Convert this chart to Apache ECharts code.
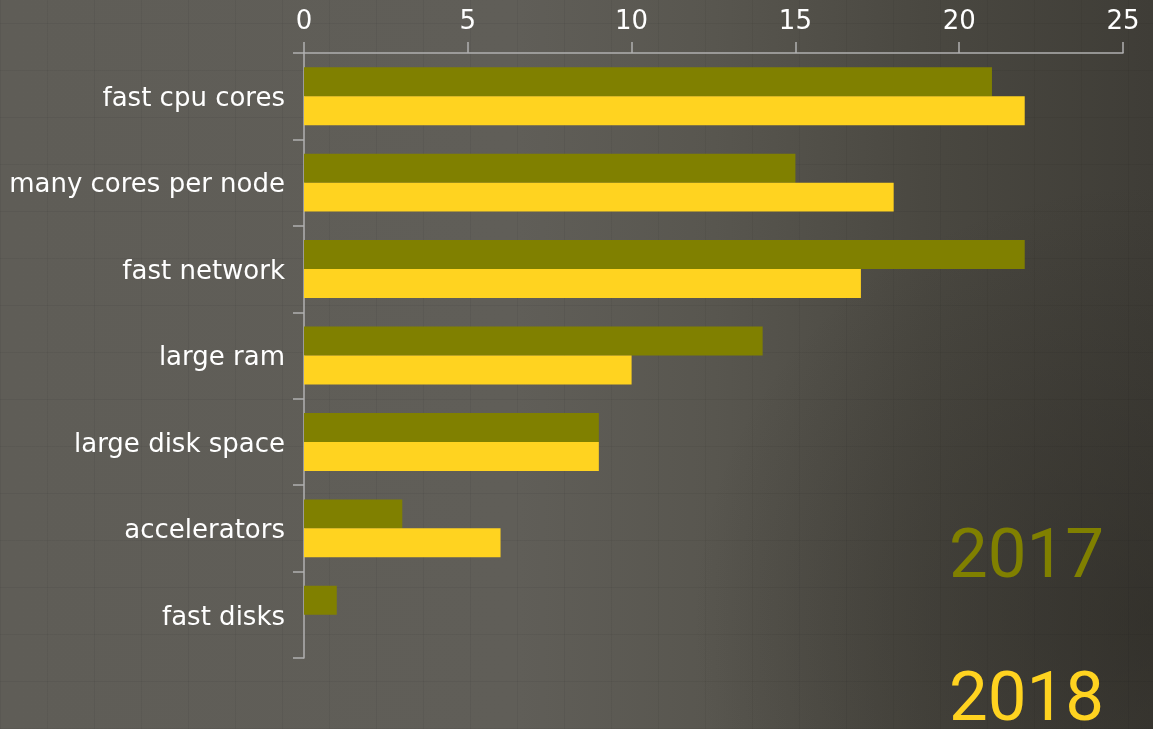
<!DOCTYPE html>
<html>
<head>
<meta charset="utf-8">
<script src="https://cdn.jsdelivr.net/npm/echarts@6/dist/echarts.min.js"></script>
<style>
html,body{margin:0;padding:0;width:1153px;height:729px;overflow:hidden;}
body{
  background:
    repeating-linear-gradient(90deg, rgba(0,0,0,0.05) 0px, rgba(0,0,0,0.05) 1px, transparent 1px, transparent 47px),
    repeating-linear-gradient(0deg, rgba(0,0,0,0.05) 0px, rgba(0,0,0,0.05) 1px, transparent 1px, transparent 47px),
    radial-gradient(ellipse 40% 60% at 100% 85%, rgba(40,38,33,0.5) 0%, rgba(40,38,33,0) 100%),
    linear-gradient(90deg, #5f5d57 0%, #605e58 45%, #58564f 62%, #4a4841 80%, #3f3d37 100%);
}
#chart{width:1153px;height:729px;}
</style>
</head>
<body>
<div id="chart"></div>
<script>
const categories = ['fast cpu cores','many cores per node','fast network','large ram','large disk space','accelerators','fast disks'];
const values2017 = [21, 15, 22, 14, 9, 3, 1];
const values2018 = [22, 18, 17, 10, 9, 6, 0];
const seriesNames = ['2017', '2018'];
const colors = ['#808000', '#ffd320'];

const chart = echarts.init(document.getElementById('chart'), null, {renderer:'canvas'});
chart.setOption({
  backgroundColor: 'transparent',
  animation: false,
  grid: {left: 304, right: 30, top: 53, bottom: 71, containLabel: false},
  legend: {
    orient: 'vertical',
    right: 44,
    top: 520,
    height: 400,
    align: 'right',
    itemWidth: 0,
    itemHeight: 0,
    itemGap: 63,
    padding: 0,
    selectedMode: false,
    data: seriesNames.map((n, i) => ({name: n, textStyle: {color: colors[i]}})),
    textStyle: {fontFamily: 'Roboto', fontSize: 69, lineHeight: 80}
  },
  xAxis: {
    type: 'value',
    position: 'top',
    min: 0, max: 25, interval: 5,
    axisLine: {show: true, lineStyle: {color: '#b0b0b0', width: 1.5}},
    axisTick: {show: true, length: 11, lineStyle: {color: '#b0b0b0', width: 1.5}},
    splitLine: {show: false},
    axisLabel: {color: '#ffffff', fontFamily: 'DejaVu Sans', fontSize: 26, margin: 18}
  },
  yAxis: {
    type: 'category',
    inverse: true,
    data: categories,
    axisLine: {show: true, lineStyle: {color: '#b0b0b0', width: 1.5}},
    axisTick: {show: true, length: 11, lineStyle: {color: '#b0b0b0', width: 1.5}},
    axisLabel: {
      margin: 19,
      formatter: v => '{a|' + v + '}',
      rich: {a: {color: '#ffffff', fontFamily: 'DejaVu Sans', fontSize: 26, padding: [6, 0, 0, 0]}}
    }
  },
  series: [
    {name: seriesNames[0], type: 'bar', data: values2017, barGap: '0%', barCategoryGap: '33%', itemStyle: {color: colors[0]}},
    {name: seriesNames[1], type: 'bar', data: values2018, barGap: '0%', barCategoryGap: '33%', itemStyle: {color: colors[1]}}
  ]
});
</script>
</body>
</html>
